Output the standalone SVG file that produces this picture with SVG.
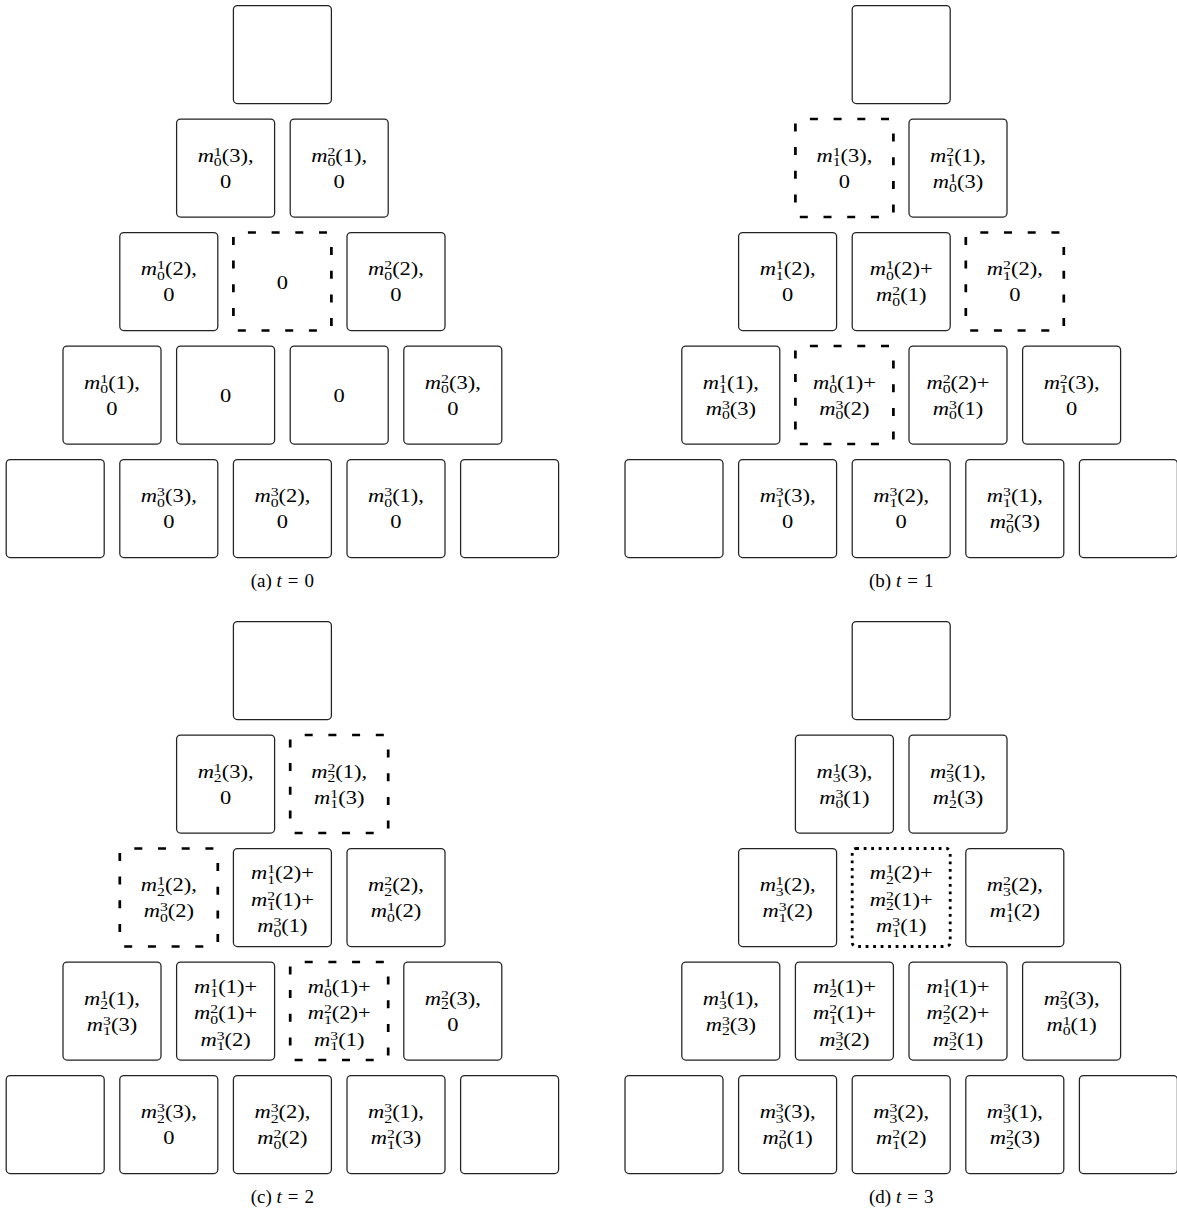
<svg xmlns="http://www.w3.org/2000/svg" xmlns:xlink="http://www.w3.org/1999/xlink" width="1177" height="1209" viewBox="0 0 1177 1209">
<style>
.b{fill:#fff;stroke:#222;stroke-width:1.25}
.dash line{stroke:#000;stroke-width:2.7;stroke-dasharray:8 15.7;stroke-dashoffset:9.2;fill:none}
.dot{fill:none;stroke:#000;stroke-width:2.8;stroke-dasharray:2.8 4.7}
.t{font-family:"Liberation Serif",serif;font-size:18px;fill:#000;text-anchor:middle}
.i{font-style:italic}
.s{font-size:12.6px}
.cap{font-family:"Liberation Serif",serif;font-size:19px;fill:#000;text-anchor:middle}
</style>
<defs>
<g id="dbox" class="dash"><line x1="0" y1="98" x2="0" y2="0"/><line x1="0" y1="0" x2="98" y2="0"/><line x1="98" y1="0" x2="98" y2="98"/><line x1="98" y1="98" x2="0" y2="98"/></g>
</defs>
<rect width="1177" height="1209" fill="#fff"/>
<g id="connectors"/>

<!-- Panel (a) t=0 -->
<g id="panel-a">
<g id="a-r0c0"><rect class="b" x="233.4" y="5.5" width="98" height="98" rx="4"/></g>
<g id="a-r1c0"><rect class="b" x="176.6" y="119" width="98" height="98" rx="4"/>
<text class="t" transform="translate(225.6,161.5) scale(1.25,1)"><tspan class="i">m</tspan><tspan class="s" dy="-6">1</tspan><tspan class="s" dx="-6.3" dy="10.5">0</tspan><tspan dy="-4.5">(3),</tspan></text>
<text class="t" transform="translate(225.6,187.5) scale(1.25,1)">0</text></g>
<g id="a-r1c1"><rect class="b" x="290.2" y="119" width="98" height="98" rx="4"/>
<text class="t" transform="translate(339.2,161.5) scale(1.25,1)"><tspan class="i">m</tspan><tspan class="s" dy="-6">2</tspan><tspan class="s" dx="-6.3" dy="10.5">0</tspan><tspan dy="-4.5">(1),</tspan></text>
<text class="t" transform="translate(339.2,187.5) scale(1.25,1)">0</text></g>
<g id="a-r2c0"><rect class="b" x="119.8" y="232.5" width="98" height="98" rx="4"/>
<text class="t" transform="translate(168.8,275) scale(1.25,1)"><tspan class="i">m</tspan><tspan class="s" dy="-6">1</tspan><tspan class="s" dx="-6.3" dy="10.5">0</tspan><tspan dy="-4.5">(2),</tspan></text>
<text class="t" transform="translate(168.8,301) scale(1.25,1)">0</text></g>
<g id="a-r2c1"><use xlink:href="#dbox" x="233.4" y="232.5"/>
<text class="t" transform="translate(282.4,288.5) scale(1.25,1)">0</text></g>
<g id="a-r2c2"><rect class="b" x="347" y="232.5" width="98" height="98" rx="4"/>
<text class="t" transform="translate(396,275) scale(1.25,1)"><tspan class="i">m</tspan><tspan class="s" dy="-6">2</tspan><tspan class="s" dx="-6.3" dy="10.5">0</tspan><tspan dy="-4.5">(2),</tspan></text>
<text class="t" transform="translate(396,301) scale(1.25,1)">0</text></g>
<g id="a-r3c0"><rect class="b" x="63" y="346" width="98" height="98" rx="4"/>
<text class="t" transform="translate(112,388.5) scale(1.25,1)"><tspan class="i">m</tspan><tspan class="s" dy="-6">1</tspan><tspan class="s" dx="-6.3" dy="10.5">0</tspan><tspan dy="-4.5">(1),</tspan></text>
<text class="t" transform="translate(112,414.5) scale(1.25,1)">0</text></g>
<g id="a-r3c1"><rect class="b" x="176.6" y="346" width="98" height="98" rx="4"/>
<text class="t" transform="translate(225.6,402) scale(1.25,1)">0</text></g>
<g id="a-r3c2"><rect class="b" x="290.2" y="346" width="98" height="98" rx="4"/>
<text class="t" transform="translate(339.2,402) scale(1.25,1)">0</text></g>
<g id="a-r3c3"><rect class="b" x="403.8" y="346" width="98" height="98" rx="4"/>
<text class="t" transform="translate(452.8,388.5) scale(1.25,1)"><tspan class="i">m</tspan><tspan class="s" dy="-6">2</tspan><tspan class="s" dx="-6.3" dy="10.5">0</tspan><tspan dy="-4.5">(3),</tspan></text>
<text class="t" transform="translate(452.8,414.5) scale(1.25,1)">0</text></g>
<g id="a-r4c0"><rect class="b" x="6.2" y="459.5" width="98" height="98" rx="4"/></g>
<g id="a-r4c1"><rect class="b" x="119.8" y="459.5" width="98" height="98" rx="4"/>
<text class="t" transform="translate(168.8,502) scale(1.25,1)"><tspan class="i">m</tspan><tspan class="s" dy="-6">3</tspan><tspan class="s" dx="-6.3" dy="10.5">0</tspan><tspan dy="-4.5">(3),</tspan></text>
<text class="t" transform="translate(168.8,528) scale(1.25,1)">0</text></g>
<g id="a-r4c2"><rect class="b" x="233.4" y="459.5" width="98" height="98" rx="4"/>
<text class="t" transform="translate(282.4,502) scale(1.25,1)"><tspan class="i">m</tspan><tspan class="s" dy="-6">3</tspan><tspan class="s" dx="-6.3" dy="10.5">0</tspan><tspan dy="-4.5">(2),</tspan></text>
<text class="t" transform="translate(282.4,528) scale(1.25,1)">0</text></g>
<g id="a-r4c3"><rect class="b" x="347" y="459.5" width="98" height="98" rx="4"/>
<text class="t" transform="translate(396,502) scale(1.25,1)"><tspan class="i">m</tspan><tspan class="s" dy="-6">3</tspan><tspan class="s" dx="-6.3" dy="10.5">0</tspan><tspan dy="-4.5">(1),</tspan></text>
<text class="t" transform="translate(396,528) scale(1.25,1)">0</text></g>
<g id="a-r4c4"><rect class="b" x="460.6" y="459.5" width="98" height="98" rx="4"/></g>
<text class="cap" x="282.4" y="586.5">(a) <tspan class="i">t</tspan><tspan dx="6">=</tspan><tspan dx="6">0</tspan></text>
</g>

<!-- Panel (b) t=1 -->
<g id="panel-b" transform="translate(618.8,0)">
<g id="b-r0c0"><rect class="b" x="233.4" y="5.5" width="98" height="98" rx="4"/></g>
<g id="b-r1c0"><use xlink:href="#dbox" x="176.6" y="119"/>
<text class="t" transform="translate(225.6,161.5) scale(1.25,1)"><tspan class="i">m</tspan><tspan class="s" dy="-6">1</tspan><tspan class="s" dx="-6.3" dy="10.5">1</tspan><tspan dy="-4.5">(3),</tspan></text>
<text class="t" transform="translate(225.6,187.5) scale(1.25,1)">0</text></g>
<g id="b-r1c1"><rect class="b" x="290.2" y="119" width="98" height="98" rx="4"/>
<text class="t" transform="translate(339.2,161.5) scale(1.25,1)"><tspan class="i">m</tspan><tspan class="s" dy="-6">2</tspan><tspan class="s" dx="-6.3" dy="10.5">1</tspan><tspan dy="-4.5">(1),</tspan></text>
<text class="t" transform="translate(339.2,187.5) scale(1.25,1)"><tspan class="i">m</tspan><tspan class="s" dy="-6">1</tspan><tspan class="s" dx="-6.3" dy="10.5">0</tspan><tspan dy="-4.5">(3)</tspan></text></g>
<g id="b-r2c0"><rect class="b" x="119.8" y="232.5" width="98" height="98" rx="4"/>
<text class="t" transform="translate(168.8,275) scale(1.25,1)"><tspan class="i">m</tspan><tspan class="s" dy="-6">1</tspan><tspan class="s" dx="-6.3" dy="10.5">1</tspan><tspan dy="-4.5">(2),</tspan></text>
<text class="t" transform="translate(168.8,301) scale(1.25,1)">0</text></g>
<g id="b-r2c1"><rect class="b" x="233.4" y="232.5" width="98" height="98" rx="4"/>
<text class="t" transform="translate(282.4,275) scale(1.25,1)"><tspan class="i">m</tspan><tspan class="s" dy="-6">1</tspan><tspan class="s" dx="-6.3" dy="10.5">0</tspan><tspan dy="-4.5">(2)+</tspan></text>
<text class="t" transform="translate(282.4,301) scale(1.25,1)"><tspan class="i">m</tspan><tspan class="s" dy="-6">2</tspan><tspan class="s" dx="-6.3" dy="10.5">0</tspan><tspan dy="-4.5">(1)</tspan></text></g>
<g id="b-r2c2"><use xlink:href="#dbox" x="347" y="232.5"/>
<text class="t" transform="translate(396,275) scale(1.25,1)"><tspan class="i">m</tspan><tspan class="s" dy="-6">2</tspan><tspan class="s" dx="-6.3" dy="10.5">1</tspan><tspan dy="-4.5">(2),</tspan></text>
<text class="t" transform="translate(396,301) scale(1.25,1)">0</text></g>
<g id="b-r3c0"><rect class="b" x="63" y="346" width="98" height="98" rx="4"/>
<text class="t" transform="translate(112,388.5) scale(1.25,1)"><tspan class="i">m</tspan><tspan class="s" dy="-6">1</tspan><tspan class="s" dx="-6.3" dy="10.5">1</tspan><tspan dy="-4.5">(1),</tspan></text>
<text class="t" transform="translate(112,414.5) scale(1.25,1)"><tspan class="i">m</tspan><tspan class="s" dy="-6">3</tspan><tspan class="s" dx="-6.3" dy="10.5">0</tspan><tspan dy="-4.5">(3)</tspan></text></g>
<g id="b-r3c1"><use xlink:href="#dbox" x="176.6" y="346"/>
<text class="t" transform="translate(225.6,388.5) scale(1.25,1)"><tspan class="i">m</tspan><tspan class="s" dy="-6">1</tspan><tspan class="s" dx="-6.3" dy="10.5">0</tspan><tspan dy="-4.5">(1)+</tspan></text>
<text class="t" transform="translate(225.6,414.5) scale(1.25,1)"><tspan class="i">m</tspan><tspan class="s" dy="-6">3</tspan><tspan class="s" dx="-6.3" dy="10.5">0</tspan><tspan dy="-4.5">(2)</tspan></text></g>
<g id="b-r3c2"><rect class="b" x="290.2" y="346" width="98" height="98" rx="4"/>
<text class="t" transform="translate(339.2,388.5) scale(1.25,1)"><tspan class="i">m</tspan><tspan class="s" dy="-6">2</tspan><tspan class="s" dx="-6.3" dy="10.5">0</tspan><tspan dy="-4.5">(2)+</tspan></text>
<text class="t" transform="translate(339.2,414.5) scale(1.25,1)"><tspan class="i">m</tspan><tspan class="s" dy="-6">3</tspan><tspan class="s" dx="-6.3" dy="10.5">0</tspan><tspan dy="-4.5">(1)</tspan></text></g>
<g id="b-r3c3"><rect class="b" x="403.8" y="346" width="98" height="98" rx="4"/>
<text class="t" transform="translate(452.8,388.5) scale(1.25,1)"><tspan class="i">m</tspan><tspan class="s" dy="-6">2</tspan><tspan class="s" dx="-6.3" dy="10.5">1</tspan><tspan dy="-4.5">(3),</tspan></text>
<text class="t" transform="translate(452.8,414.5) scale(1.25,1)">0</text></g>
<g id="b-r4c0"><rect class="b" x="6.2" y="459.5" width="98" height="98" rx="4"/></g>
<g id="b-r4c1"><rect class="b" x="119.8" y="459.5" width="98" height="98" rx="4"/>
<text class="t" transform="translate(168.8,502) scale(1.25,1)"><tspan class="i">m</tspan><tspan class="s" dy="-6">3</tspan><tspan class="s" dx="-6.3" dy="10.5">1</tspan><tspan dy="-4.5">(3),</tspan></text>
<text class="t" transform="translate(168.8,528) scale(1.25,1)">0</text></g>
<g id="b-r4c2"><rect class="b" x="233.4" y="459.5" width="98" height="98" rx="4"/>
<text class="t" transform="translate(282.4,502) scale(1.25,1)"><tspan class="i">m</tspan><tspan class="s" dy="-6">3</tspan><tspan class="s" dx="-6.3" dy="10.5">1</tspan><tspan dy="-4.5">(2),</tspan></text>
<text class="t" transform="translate(282.4,528) scale(1.25,1)">0</text></g>
<g id="b-r4c3"><rect class="b" x="347" y="459.5" width="98" height="98" rx="4"/>
<text class="t" transform="translate(396,502) scale(1.25,1)"><tspan class="i">m</tspan><tspan class="s" dy="-6">3</tspan><tspan class="s" dx="-6.3" dy="10.5">1</tspan><tspan dy="-4.5">(1),</tspan></text>
<text class="t" transform="translate(396,528) scale(1.25,1)"><tspan class="i">m</tspan><tspan class="s" dy="-6">2</tspan><tspan class="s" dx="-6.3" dy="10.5">0</tspan><tspan dy="-4.5">(3)</tspan></text></g>
<g id="b-r4c4"><rect class="b" x="460.6" y="459.5" width="98" height="98" rx="4"/></g>
<text class="cap" x="282.4" y="586.5">(b) <tspan class="i">t</tspan><tspan dx="6">=</tspan><tspan dx="6">1</tspan></text>
</g>

<!-- Panel (c) t=2 -->
<g id="panel-c" transform="translate(0,616)">
<g id="c-r0c0"><rect class="b" x="233.4" y="5.5" width="98" height="98" rx="4"/></g>
<g id="c-r1c0"><rect class="b" x="176.6" y="119" width="98" height="98" rx="4"/>
<text class="t" transform="translate(225.6,161.5) scale(1.25,1)"><tspan class="i">m</tspan><tspan class="s" dy="-6">1</tspan><tspan class="s" dx="-6.3" dy="10.5">2</tspan><tspan dy="-4.5">(3),</tspan></text>
<text class="t" transform="translate(225.6,187.5) scale(1.25,1)">0</text></g>
<g id="c-r1c1"><use xlink:href="#dbox" x="290.2" y="119"/>
<text class="t" transform="translate(339.2,161.5) scale(1.25,1)"><tspan class="i">m</tspan><tspan class="s" dy="-6">2</tspan><tspan class="s" dx="-6.3" dy="10.5">2</tspan><tspan dy="-4.5">(1),</tspan></text>
<text class="t" transform="translate(339.2,187.5) scale(1.25,1)"><tspan class="i">m</tspan><tspan class="s" dy="-6">1</tspan><tspan class="s" dx="-6.3" dy="10.5">1</tspan><tspan dy="-4.5">(3)</tspan></text></g>
<g id="c-r2c0"><use xlink:href="#dbox" x="119.8" y="232.5"/>
<text class="t" transform="translate(168.8,275) scale(1.25,1)"><tspan class="i">m</tspan><tspan class="s" dy="-6">1</tspan><tspan class="s" dx="-6.3" dy="10.5">2</tspan><tspan dy="-4.5">(2),</tspan></text>
<text class="t" transform="translate(168.8,301) scale(1.25,1)"><tspan class="i">m</tspan><tspan class="s" dy="-6">3</tspan><tspan class="s" dx="-6.3" dy="10.5">0</tspan><tspan dy="-4.5">(2)</tspan></text></g>
<g id="c-r2c1"><rect class="b" x="233.4" y="232.5" width="98" height="98" rx="4"/>
<text class="t" transform="translate(282.4,263) scale(1.25,1)"><tspan class="i">m</tspan><tspan class="s" dy="-6">1</tspan><tspan class="s" dx="-6.3" dy="10.5">1</tspan><tspan dy="-4.5">(2)+</tspan></text>
<text class="t" transform="translate(282.4,289.5) scale(1.25,1)"><tspan class="i">m</tspan><tspan class="s" dy="-6">2</tspan><tspan class="s" dx="-6.3" dy="10.5">1</tspan><tspan dy="-4.5">(1)+</tspan></text>
<text class="t" transform="translate(282.4,316) scale(1.25,1)"><tspan class="i">m</tspan><tspan class="s" dy="-6">3</tspan><tspan class="s" dx="-6.3" dy="10.5">0</tspan><tspan dy="-4.5">(1)</tspan></text></g>
<g id="c-r2c2"><rect class="b" x="347" y="232.5" width="98" height="98" rx="4"/>
<text class="t" transform="translate(396,275) scale(1.25,1)"><tspan class="i">m</tspan><tspan class="s" dy="-6">2</tspan><tspan class="s" dx="-6.3" dy="10.5">2</tspan><tspan dy="-4.5">(2),</tspan></text>
<text class="t" transform="translate(396,301) scale(1.25,1)"><tspan class="i">m</tspan><tspan class="s" dy="-6">1</tspan><tspan class="s" dx="-6.3" dy="10.5">0</tspan><tspan dy="-4.5">(2)</tspan></text></g>
<g id="c-r3c0"><rect class="b" x="63" y="346" width="98" height="98" rx="4"/>
<text class="t" transform="translate(112,388.5) scale(1.25,1)"><tspan class="i">m</tspan><tspan class="s" dy="-6">1</tspan><tspan class="s" dx="-6.3" dy="10.5">2</tspan><tspan dy="-4.5">(1),</tspan></text>
<text class="t" transform="translate(112,414.5) scale(1.25,1)"><tspan class="i">m</tspan><tspan class="s" dy="-6">3</tspan><tspan class="s" dx="-6.3" dy="10.5">1</tspan><tspan dy="-4.5">(3)</tspan></text></g>
<g id="c-r3c1"><rect class="b" x="176.6" y="346" width="98" height="98" rx="4"/>
<text class="t" transform="translate(225.6,376.5) scale(1.25,1)"><tspan class="i">m</tspan><tspan class="s" dy="-6">1</tspan><tspan class="s" dx="-6.3" dy="10.5">1</tspan><tspan dy="-4.5">(1)+</tspan></text>
<text class="t" transform="translate(225.6,403) scale(1.25,1)"><tspan class="i">m</tspan><tspan class="s" dy="-6">2</tspan><tspan class="s" dx="-6.3" dy="10.5">0</tspan><tspan dy="-4.5">(1)+</tspan></text>
<text class="t" transform="translate(225.6,429.5) scale(1.25,1)"><tspan class="i">m</tspan><tspan class="s" dy="-6">3</tspan><tspan class="s" dx="-6.3" dy="10.5">1</tspan><tspan dy="-4.5">(2)</tspan></text></g>
<g id="c-r3c2"><use xlink:href="#dbox" x="290.2" y="346"/>
<text class="t" transform="translate(339.2,376.5) scale(1.25,1)"><tspan class="i">m</tspan><tspan class="s" dy="-6">1</tspan><tspan class="s" dx="-6.3" dy="10.5">0</tspan><tspan dy="-4.5">(1)+</tspan></text>
<text class="t" transform="translate(339.2,403) scale(1.25,1)"><tspan class="i">m</tspan><tspan class="s" dy="-6">2</tspan><tspan class="s" dx="-6.3" dy="10.5">1</tspan><tspan dy="-4.5">(2)+</tspan></text>
<text class="t" transform="translate(339.2,429.5) scale(1.25,1)"><tspan class="i">m</tspan><tspan class="s" dy="-6">3</tspan><tspan class="s" dx="-6.3" dy="10.5">1</tspan><tspan dy="-4.5">(1)</tspan></text></g>
<g id="c-r3c3"><rect class="b" x="403.8" y="346" width="98" height="98" rx="4"/>
<text class="t" transform="translate(452.8,388.5) scale(1.25,1)"><tspan class="i">m</tspan><tspan class="s" dy="-6">2</tspan><tspan class="s" dx="-6.3" dy="10.5">2</tspan><tspan dy="-4.5">(3),</tspan></text>
<text class="t" transform="translate(452.8,414.5) scale(1.25,1)">0</text></g>
<g id="c-r4c0"><rect class="b" x="6.2" y="459.5" width="98" height="98" rx="4"/></g>
<g id="c-r4c1"><rect class="b" x="119.8" y="459.5" width="98" height="98" rx="4"/>
<text class="t" transform="translate(168.8,502) scale(1.25,1)"><tspan class="i">m</tspan><tspan class="s" dy="-6">3</tspan><tspan class="s" dx="-6.3" dy="10.5">2</tspan><tspan dy="-4.5">(3),</tspan></text>
<text class="t" transform="translate(168.8,528) scale(1.25,1)">0</text></g>
<g id="c-r4c2"><rect class="b" x="233.4" y="459.5" width="98" height="98" rx="4"/>
<text class="t" transform="translate(282.4,502) scale(1.25,1)"><tspan class="i">m</tspan><tspan class="s" dy="-6">3</tspan><tspan class="s" dx="-6.3" dy="10.5">2</tspan><tspan dy="-4.5">(2),</tspan></text>
<text class="t" transform="translate(282.4,528) scale(1.25,1)"><tspan class="i">m</tspan><tspan class="s" dy="-6">2</tspan><tspan class="s" dx="-6.3" dy="10.5">0</tspan><tspan dy="-4.5">(2)</tspan></text></g>
<g id="c-r4c3"><rect class="b" x="347" y="459.5" width="98" height="98" rx="4"/>
<text class="t" transform="translate(396,502) scale(1.25,1)"><tspan class="i">m</tspan><tspan class="s" dy="-6">3</tspan><tspan class="s" dx="-6.3" dy="10.5">2</tspan><tspan dy="-4.5">(1),</tspan></text>
<text class="t" transform="translate(396,528) scale(1.25,1)"><tspan class="i">m</tspan><tspan class="s" dy="-6">2</tspan><tspan class="s" dx="-6.3" dy="10.5">1</tspan><tspan dy="-4.5">(3)</tspan></text></g>
<g id="c-r4c4"><rect class="b" x="460.6" y="459.5" width="98" height="98" rx="4"/></g>
<text class="cap" x="282.4" y="586.5">(c) <tspan class="i">t</tspan><tspan dx="6">=</tspan><tspan dx="6">2</tspan></text>
</g>

<!-- Panel (d) t=3 -->
<g id="panel-d" transform="translate(618.8,616)">
<g id="d-r0c0"><rect class="b" x="233.4" y="5.5" width="98" height="98" rx="4"/></g>
<g id="d-r1c0"><rect class="b" x="176.6" y="119" width="98" height="98" rx="4"/>
<text class="t" transform="translate(225.6,161.5) scale(1.25,1)"><tspan class="i">m</tspan><tspan class="s" dy="-6">1</tspan><tspan class="s" dx="-6.3" dy="10.5">3</tspan><tspan dy="-4.5">(3),</tspan></text>
<text class="t" transform="translate(225.6,187.5) scale(1.25,1)"><tspan class="i">m</tspan><tspan class="s" dy="-6">3</tspan><tspan class="s" dx="-6.3" dy="10.5">0</tspan><tspan dy="-4.5">(1)</tspan></text></g>
<g id="d-r1c1"><rect class="b" x="290.2" y="119" width="98" height="98" rx="4"/>
<text class="t" transform="translate(339.2,161.5) scale(1.25,1)"><tspan class="i">m</tspan><tspan class="s" dy="-6">2</tspan><tspan class="s" dx="-6.3" dy="10.5">3</tspan><tspan dy="-4.5">(1),</tspan></text>
<text class="t" transform="translate(339.2,187.5) scale(1.25,1)"><tspan class="i">m</tspan><tspan class="s" dy="-6">1</tspan><tspan class="s" dx="-6.3" dy="10.5">2</tspan><tspan dy="-4.5">(3)</tspan></text></g>
<g id="d-r2c0"><rect class="b" x="119.8" y="232.5" width="98" height="98" rx="4"/>
<text class="t" transform="translate(168.8,275) scale(1.25,1)"><tspan class="i">m</tspan><tspan class="s" dy="-6">1</tspan><tspan class="s" dx="-6.3" dy="10.5">3</tspan><tspan dy="-4.5">(2),</tspan></text>
<text class="t" transform="translate(168.8,301) scale(1.25,1)"><tspan class="i">m</tspan><tspan class="s" dy="-6">3</tspan><tspan class="s" dx="-6.3" dy="10.5">1</tspan><tspan dy="-4.5">(2)</tspan></text></g>
<g id="d-r2c1"><rect class="dot" x="233.4" y="232.5" width="98" height="98" rx="4"/>
<text class="t" transform="translate(282.4,263) scale(1.25,1)"><tspan class="i">m</tspan><tspan class="s" dy="-6">1</tspan><tspan class="s" dx="-6.3" dy="10.5">2</tspan><tspan dy="-4.5">(2)+</tspan></text>
<text class="t" transform="translate(282.4,289.5) scale(1.25,1)"><tspan class="i">m</tspan><tspan class="s" dy="-6">2</tspan><tspan class="s" dx="-6.3" dy="10.5">2</tspan><tspan dy="-4.5">(1)+</tspan></text>
<text class="t" transform="translate(282.4,316) scale(1.25,1)"><tspan class="i">m</tspan><tspan class="s" dy="-6">3</tspan><tspan class="s" dx="-6.3" dy="10.5">1</tspan><tspan dy="-4.5">(1)</tspan></text></g>
<g id="d-r2c2"><rect class="b" x="347" y="232.5" width="98" height="98" rx="4"/>
<text class="t" transform="translate(396,275) scale(1.25,1)"><tspan class="i">m</tspan><tspan class="s" dy="-6">2</tspan><tspan class="s" dx="-6.3" dy="10.5">3</tspan><tspan dy="-4.5">(2),</tspan></text>
<text class="t" transform="translate(396,301) scale(1.25,1)"><tspan class="i">m</tspan><tspan class="s" dy="-6">1</tspan><tspan class="s" dx="-6.3" dy="10.5">1</tspan><tspan dy="-4.5">(2)</tspan></text></g>
<g id="d-r3c0"><rect class="b" x="63" y="346" width="98" height="98" rx="4"/>
<text class="t" transform="translate(112,388.5) scale(1.25,1)"><tspan class="i">m</tspan><tspan class="s" dy="-6">1</tspan><tspan class="s" dx="-6.3" dy="10.5">3</tspan><tspan dy="-4.5">(1),</tspan></text>
<text class="t" transform="translate(112,414.5) scale(1.25,1)"><tspan class="i">m</tspan><tspan class="s" dy="-6">3</tspan><tspan class="s" dx="-6.3" dy="10.5">2</tspan><tspan dy="-4.5">(3)</tspan></text></g>
<g id="d-r3c1"><rect class="b" x="176.6" y="346" width="98" height="98" rx="4"/>
<text class="t" transform="translate(225.6,376.5) scale(1.25,1)"><tspan class="i">m</tspan><tspan class="s" dy="-6">1</tspan><tspan class="s" dx="-6.3" dy="10.5">2</tspan><tspan dy="-4.5">(1)+</tspan></text>
<text class="t" transform="translate(225.6,403) scale(1.25,1)"><tspan class="i">m</tspan><tspan class="s" dy="-6">2</tspan><tspan class="s" dx="-6.3" dy="10.5">1</tspan><tspan dy="-4.5">(1)+</tspan></text>
<text class="t" transform="translate(225.6,429.5) scale(1.25,1)"><tspan class="i">m</tspan><tspan class="s" dy="-6">3</tspan><tspan class="s" dx="-6.3" dy="10.5">2</tspan><tspan dy="-4.5">(2)</tspan></text></g>
<g id="d-r3c2"><rect class="b" x="290.2" y="346" width="98" height="98" rx="4"/>
<text class="t" transform="translate(339.2,376.5) scale(1.25,1)"><tspan class="i">m</tspan><tspan class="s" dy="-6">1</tspan><tspan class="s" dx="-6.3" dy="10.5">1</tspan><tspan dy="-4.5">(1)+</tspan></text>
<text class="t" transform="translate(339.2,403) scale(1.25,1)"><tspan class="i">m</tspan><tspan class="s" dy="-6">2</tspan><tspan class="s" dx="-6.3" dy="10.5">2</tspan><tspan dy="-4.5">(2)+</tspan></text>
<text class="t" transform="translate(339.2,429.5) scale(1.25,1)"><tspan class="i">m</tspan><tspan class="s" dy="-6">3</tspan><tspan class="s" dx="-6.3" dy="10.5">2</tspan><tspan dy="-4.5">(1)</tspan></text></g>
<g id="d-r3c3"><rect class="b" x="403.8" y="346" width="98" height="98" rx="4"/>
<text class="t" transform="translate(452.8,388.5) scale(1.25,1)"><tspan class="i">m</tspan><tspan class="s" dy="-6">2</tspan><tspan class="s" dx="-6.3" dy="10.5">3</tspan><tspan dy="-4.5">(3),</tspan></text>
<text class="t" transform="translate(452.8,414.5) scale(1.25,1)"><tspan class="i">m</tspan><tspan class="s" dy="-6">1</tspan><tspan class="s" dx="-6.3" dy="10.5">0</tspan><tspan dy="-4.5">(1)</tspan></text></g>
<g id="d-r4c0"><rect class="b" x="6.2" y="459.5" width="98" height="98" rx="4"/></g>
<g id="d-r4c1"><rect class="b" x="119.8" y="459.5" width="98" height="98" rx="4"/>
<text class="t" transform="translate(168.8,502) scale(1.25,1)"><tspan class="i">m</tspan><tspan class="s" dy="-6">3</tspan><tspan class="s" dx="-6.3" dy="10.5">3</tspan><tspan dy="-4.5">(3),</tspan></text>
<text class="t" transform="translate(168.8,528) scale(1.25,1)"><tspan class="i">m</tspan><tspan class="s" dy="-6">2</tspan><tspan class="s" dx="-6.3" dy="10.5">0</tspan><tspan dy="-4.5">(1)</tspan></text></g>
<g id="d-r4c2"><rect class="b" x="233.4" y="459.5" width="98" height="98" rx="4"/>
<text class="t" transform="translate(282.4,502) scale(1.25,1)"><tspan class="i">m</tspan><tspan class="s" dy="-6">3</tspan><tspan class="s" dx="-6.3" dy="10.5">3</tspan><tspan dy="-4.5">(2),</tspan></text>
<text class="t" transform="translate(282.4,528) scale(1.25,1)"><tspan class="i">m</tspan><tspan class="s" dy="-6">2</tspan><tspan class="s" dx="-6.3" dy="10.5">1</tspan><tspan dy="-4.5">(2)</tspan></text></g>
<g id="d-r4c3"><rect class="b" x="347" y="459.5" width="98" height="98" rx="4"/>
<text class="t" transform="translate(396,502) scale(1.25,1)"><tspan class="i">m</tspan><tspan class="s" dy="-6">3</tspan><tspan class="s" dx="-6.3" dy="10.5">3</tspan><tspan dy="-4.5">(1),</tspan></text>
<text class="t" transform="translate(396,528) scale(1.25,1)"><tspan class="i">m</tspan><tspan class="s" dy="-6">2</tspan><tspan class="s" dx="-6.3" dy="10.5">2</tspan><tspan dy="-4.5">(3)</tspan></text></g>
<g id="d-r4c4"><rect class="b" x="460.6" y="459.5" width="98" height="98" rx="4"/></g>
<text class="cap" x="282.4" y="586.5">(d) <tspan class="i">t</tspan><tspan dx="6">=</tspan><tspan dx="6">3</tspan></text>
</g>
</svg>
